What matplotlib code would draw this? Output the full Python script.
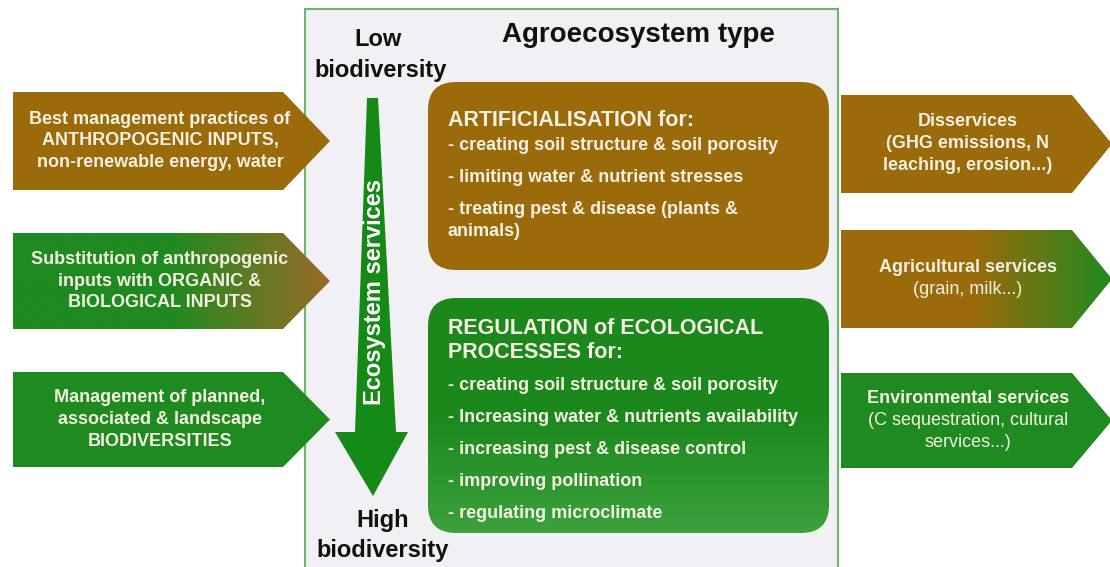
import numpy as np
import matplotlib
matplotlib.use("Agg")
import matplotlib.pyplot as plt
from matplotlib.patches import Polygon, FancyBboxPatch, Rectangle
from matplotlib.colors import LinearSegmentedColormap

plt.rcParams['font.family'] = ['Liberation Sans', 'DejaVu Sans']

# colours
BROWN = "#9a6a0b"
GREEN = "#1f8a1f"
TXT = "#f3f0e2"

# left input arrows: (label, fill) with fill = (left colour, right colour)
left_labels = ["Best management practices of\nANTHROPOGENIC INPUTS,\nnon-renewable energy, water",
               "Substitution of anthropogenic\ninputs with ORGANIC &\nBIOLOGICAL INPUTS",
               "Management of planned,\nassociated & landscape\nBIODIVERSITIES"]
left_fills = [(BROWN, BROWN), (GREEN, "#9b6a28"), (GREEN, GREEN)]
left_rows = [(92, 190), (233, 329), (372, 467)]

# right output arrows
right_labels = ["Disservices\n(GHG emissions, N\nleaching, erosion...)",
                "Agricultural services\n(grain, milk...)",
                "Environmental services\n(C sequestration, cultural\nservices...)"]
right_bold_lines = [3, 1, 1]
right_fills = [(BROWN, BROWN), (BROWN, GREEN), (GREEN, GREEN)]
right_rows = [(95, 193), (230, 328), (373, 468)]

art_title = "ARTIFICIALISATION for:"
art_items = ["- creating soil structure & soil porosity",
             "- limiting water & nutrient stresses",
             "- treating pest & disease (plants &",
             "animals)"]
reg_title = ["REGULATION of ECOLOGICAL", "PROCESSES for:"]
reg_items = ["- creating soil structure & soil porosity",
             "- Increasing water & nutrients availability",
             "- increasing pest & disease control",
             "- improving pollination",
             "- regulating microclimate"]

fig = plt.figure(figsize=(11.1, 5.67), dpi=100)
ax = fig.add_axes([0, 0, 1, 1])
ax.set_xlim(0, 1110)
ax.set_ylim(567, 0)
ax.axis("off")


def grad_fill(patch, c1, c2, vertical=False):
    ax.add_patch(patch)
    if c1 == c2:
        patch.set_facecolor(c1)
        return
    patch.set_facecolor("none")
    cm = LinearSegmentedColormap.from_list("g", [c1, c1, c2])
    g = np.linspace(0, 1, 256)
    g = g.reshape(-1, 1) if vertical else g.reshape(1, -1)
    bb = patch.get_path().get_extents(patch.get_patch_transform())
    im = ax.imshow(g, cmap=cm, aspect="auto",
                   extent=[bb.x0, bb.x1, bb.y1, bb.y0], zorder=patch.get_zorder())
    im.set_clip_path(patch)


def arrow_shape(x0, x1, tip, y0, y1):
    ym = (y0 + y1) / 2
    return [(x0, y0), (x1, y0), (tip, ym), (x1, y1), (x0, y1)]


def lines_at(x, yc, lab, step, size, bold_n=99, ha="center"):
    lines = lab.split("\n")
    n = len(lines)
    for i, ln in enumerate(lines):
        yy = yc + (i - (n - 1) / 2) * step
        ax.text(x, yy, ln, ha=ha, va="center", color=TXT, fontsize=size,
                fontweight="bold" if i < bold_n else "normal", zorder=5)


# central frame
ax.add_patch(Rectangle((305, 9), 533, 560, facecolor="#f1f1f5",
                       edgecolor="#6cb56c", lw=1.5, zorder=1))

for lab, (c1, c2), (y0, y1) in zip(left_labels, left_fills, left_rows):
    p = Polygon(arrow_shape(13, 283, 330, y0, y1), closed=True, lw=0, zorder=2)
    grad_fill(p, c1, c2)
    lines_at(160, (y0 + y1) / 2, lab, 21.5, 13)

for lab, nb, (c1, c2), (y0, y1) in zip(right_labels, right_bold_lines, right_fills, right_rows):
    p = Polygon(arrow_shape(841, 1072, 1112, y0, y1), closed=True, lw=0, zorder=2)
    grad_fill(p, c1, c2)
    lines_at(968, (y0 + y1) / 2, lab, 22, 13, bold_n=nb)

# headings
ax.text(638, 35, "Agroecosystem type", ha="center", va="center",
        fontsize=20, fontweight="bold", color="#111111", zorder=5)
ax.text(378, 40, "Low", ha="center", va="center",
        fontsize=17, fontweight="bold", color="#111111", zorder=5)
ax.text(381, 70, "biodiversity", ha="center", va="center",
        fontsize=17, fontweight="bold", color="#111111", zorder=5)
ax.text(383, 521, "High", ha="center", va="center",
        fontsize=17, fontweight="bold", color="#111111", zorder=5)
ax.text(383, 550, "biodiversity", ha="center", va="center",
        fontsize=17, fontweight="bold", color="#111111", zorder=5)

# ecosystem services arrow
ax.add_patch(Polygon([(367, 98), (378, 98), (396, 432), (408, 432), (373, 496),
                      (335, 432), (355, 432)], closed=True, facecolor="#168a16",
                     lw=0, zorder=3))
ax.text(374, 292, "Ecosystem services", rotation=90, ha="center", va="center",
        color="white", fontsize=17, fontweight="bold", zorder=5)

# artificialisation box
b1 = FancyBboxPatch((428, 82), 401, 188, boxstyle="round,pad=0,rounding_size=28",
                    lw=0, zorder=2)
grad_fill(b1, BROWN, BROWN)
ax.text(448, 120, art_title, ha="left", va="center", color=TXT,
        fontsize=15.5, fontweight="bold", zorder=5)
for yy, it in zip([146, 178, 210, 232], art_items):
    ax.text(448, yy, it, ha="left", va="center", color=TXT, fontsize=13,
            fontweight="bold", zorder=5)

# regulation box
b2 = FancyBboxPatch((428, 298), 401, 235, boxstyle="round,pad=0,rounding_size=28",
                    lw=0, zorder=2)
grad_fill(b2, "#1c881c", "#3da13d", vertical=True)
for yy, it in zip([328, 353], reg_title):
    ax.text(448, yy, it, ha="left", va="center", color=TXT,
            fontsize=15.5, fontweight="bold", zorder=5)
for yy, it in zip([386, 418, 450, 481, 513], reg_items):
    ax.text(448, yy, it, ha="left", va="center", color=TXT, fontsize=13,
            fontweight="bold", zorder=5)

fig.savefig("out.png", dpi=100)
